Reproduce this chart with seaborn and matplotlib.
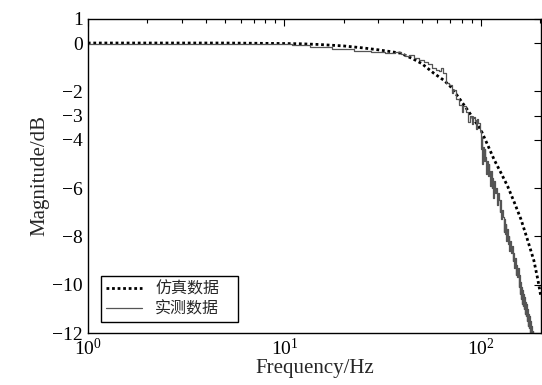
import numpy as np
import pandas as pd
import matplotlib
matplotlib.use("Agg")
import matplotlib.pyplot as plt
import seaborn as sns
from matplotlib.ticker import LogLocator, NullFormatter, FixedLocator

sim_f = [1, 5, 10, 12, 15, 20, 25, 30, 35, 39, 45, 50, 57.6, 65, 70, 77, 85.5, 92,
         100, 108, 117, 127, 137, 148, 160, 172, 186, 195, 202]
sim_db = [0, 0, -0.02, -0.03, -0.06, -0.12, -0.2, -0.28, -0.36, -0.42, -0.65, -0.85,
          -1.25, -1.55, -1.8, -2.25, -2.77, -3.15, -3.6, -4.2, -4.84, -5.4, -5.94,
          -6.6, -7.3, -8.1, -9.0, -9.8, -10.5]

meas_f = [1, 2, 5, 8, 10, 12, 15, 20, 25, 30, 35, 38, 40, 42, 44, 47, 50, 53, 55,
          57.6, 60, 62, 63.5, 65, 67.6, 70, 72, 73, 76, 79, 81, 82, 85, 87, 89, 91,
          92, 94, 95, 96, 98,
          100, 100.5, 101, 102, 103, 104, 105, 106, 107, 108, 109, 110, 111, 112,
          113, 114, 115, 116, 117, 118, 120, 121, 122, 124, 125, 126, 127, 128,
          130, 131, 132, 133, 134, 135, 136, 138, 139, 140, 141, 143, 144, 146,
          147, 149, 150, 151, 152, 154, 155, 156, 157, 158, 159, 160, 161, 162,
          163, 164, 165, 166, 167, 168, 169, 170, 171, 172, 173, 174, 175, 176,
          177, 178, 179, 180, 181, 183, 184, 186]
meas_db = [-0.02, -0.02, -0.03, -0.03, -0.05, -0.08, -0.15, -0.25, -0.33, -0.38,
           -0.42, -0.38, -0.45, -0.52, -0.5, -0.62, -0.72, -0.8, -0.85, -1.05, -1.1,
           -1.15, -1.05, -1.25, -1.65, -1.75, -2.05, -1.95, -2.3, -2.55, -2.85, -2.6,
           -2.85, -3.25, -3.0, -3.35, -3.05, -3.2, -3.55, -3.15, -3.3,
           -3.6, -4.4, -3.9, -5.0, -4.3, -4.9, -4.4, -4.7, -5.4, -4.9, -5.5, -5.0,
           -5.3, -5.9, -5.3, -6.0, -5.6, -6.4, -5.7, -6.2, -6.0, -6.7, -6.2, -6.5,
           -7.0, -6.5, -7.3, -6.9, -7.2, -7.8, -7.3, -7.9, -7.5, -8.2, -7.7, -8.3,
           -8.0, -8.6, -8.2, -8.7, -8.4, -9.0, -8.7, -9.3, -8.9, -9.6, -9.2, -9.7,
           -9.3, -10.1, -9.6, -10.4, -9.9, -10.6, -10.1, -10.8, -10.2, -10.9, -10.4,
           -11.0, -10.5, -11.2, -10.7, -11.3, -10.8, -11.5, -11.0, -11.7, -11.2,
           -11.8, -11.3, -12.1, -11.5, -12.3, -11.7, -12.5, -11.9, -12.6]

y_ticks = [1, 0, -2, -3, -4, -6, -8, -10, -12]
x_label = "Frequency/Hz"
y_label = "Magnitude/dB"
legend_labels = ["仿真数据", "实测数据"]

sns.set_style("white")
plt.rcParams["font.family"] = ["Liberation Serif", "Noto Sans CJK SC"]
plt.rcParams["mathtext.fontset"] = "stix"
plt.rcParams["axes.unicode_minus"] = True

fig = plt.figure(figsize=(5.42, 3.85), dpi=100)
ax = fig.add_axes([0.162, 0.135, 0.836, 0.816])

sim = pd.DataFrame({"f": sim_f, "db": sim_db})
meas = pd.DataFrame({"f": meas_f, "db": meas_db})

sns.lineplot(data=sim, x="f", y="db", ax=ax, color="black", lw=2.0,
             label=legend_labels[0], estimator=None, sort=False)
ax.lines[-1].set_dashes([1, 1])
sns.lineplot(data=meas, x="f", y="db", ax=ax, color="#555555", lw=0.9,
             label=legend_labels[1], estimator=None, sort=False,
             drawstyle="steps-mid")

ax.set_xscale("log")
ax.set_xlim(1, 202)
ax.set_ylim(-12, 1)
ax.yaxis.set_major_locator(FixedLocator(y_ticks))
ax.set_yticklabels([("−" + str(-t)) if t < 0 else str(t) for t in y_ticks])
ax.xaxis.set_major_locator(LogLocator(base=10, numticks=10))
ax.xaxis.set_minor_locator(LogLocator(base=10, subs=np.arange(2, 10), numticks=20))
ax.xaxis.set_minor_formatter(NullFormatter())

ax.tick_params(axis="both", which="both", direction="in", top=True, right=True,
               labelsize=14, colors="black")
ax.tick_params(which="major", length=5, width=0.8)
ax.tick_params(which="minor", length=3, width=0.8)
for s in ax.spines.values():
    s.set_color("black")
    s.set_linewidth(1.0)

ax.set_xlabel(x_label, fontsize=15, labelpad=0)
ax.set_ylabel(y_label, fontsize=15, labelpad=2)

leg = ax.legend(loc="lower left", bbox_to_anchor=(0.0287, 0.035, 0.302, 0.14),
                mode="expand", frameon=True, fancybox=False, edgecolor="black",
                framealpha=1, handlelength=2.3, borderpad=0.3, labelspacing=0.15,
                borderaxespad=0.0,
                prop={"family": ["Noto Sans CJK SC"], "size": 11.5})
leg.get_frame().set_linewidth(1.0)

fig.savefig("out.png", dpi=100)
